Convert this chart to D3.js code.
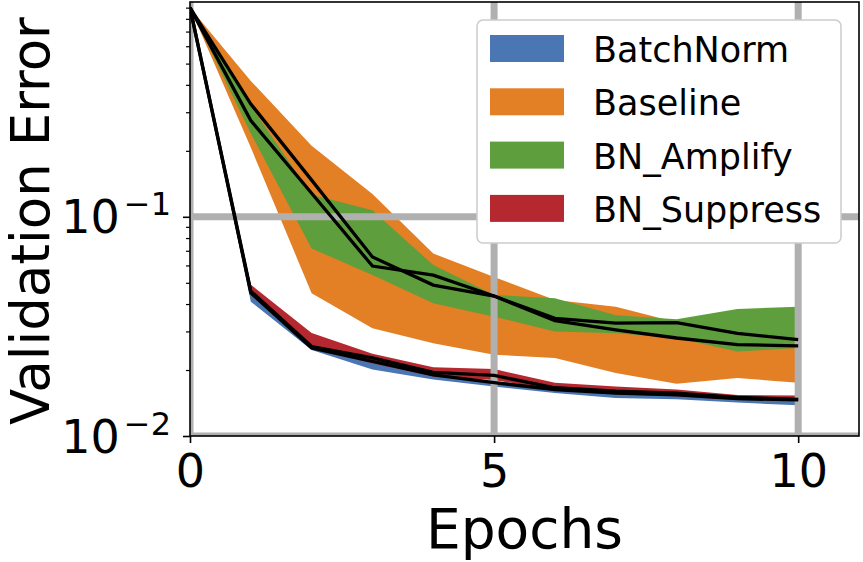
<!DOCTYPE html>
<html>
<head>
<meta charset="utf-8">
<script src="https://d3js.org/d3.v7.min.js"></script>
<style>
  body { margin: 0; background: #ffffff; }
  svg { display: block; font-family: "DejaVu Sans", sans-serif; }
</style>
</head>
<body>
<div id="chart-area"></div>
<script>
// data
var epochs = [0, 1, 2, 3, 4, 5, 6, 7, 8, 9, 10];

var batchNormMean = [0.9, 0.045, 0.0252, 0.0219, 0.0190, 0.0175, 0.0163, 0.0157, 0.0154, 0.0148, 0.0146];
var batchNormLow  = [0.9, 0.041, 0.0247, 0.0201, 0.0181, 0.0168, 0.0157, 0.0149, 0.0147, 0.0142, 0.0138];
var batchNormHigh = [0.9, 0.047, 0.0257, 0.0222, 0.0194, 0.0178, 0.0166, 0.0160, 0.0157, 0.0150, 0.0148];

var baselineMean = [0.9, 0.327, 0.147, 0.0656, 0.0488, 0.0435, 0.0336, 0.0305, 0.0280, 0.0261, 0.0258];
var baselineLow  = [0.9, 0.207, 0.0448, 0.0310, 0.0265, 0.0235, 0.0227, 0.0194, 0.0173, 0.0184, 0.0175];
var baselineHigh = [0.9, 0.417, 0.211, 0.127, 0.068, 0.0532, 0.0417, 0.0389, 0.0330, 0.0340, 0.0330];

var amplifyMean = [0.9, 0.275, 0.128, 0.0596, 0.0542, 0.0435, 0.0344, 0.0327, 0.0329, 0.0294, 0.0275];
var amplifyLow  = [0.9, 0.240, 0.0717, 0.0542, 0.0403, 0.0350, 0.0300, 0.0294, 0.0280, 0.0243, 0.0252];
var amplifyHigh = [0.9, 0.320, 0.126, 0.107, 0.0602, 0.0440, 0.0425, 0.0356, 0.0341, 0.0380, 0.0389];

var suppressMean = [0.9, 0.0458, 0.0256, 0.0227, 0.0195, 0.0189, 0.0166, 0.0160, 0.0157, 0.0150, 0.0147];
var suppressLow  = [0.9, 0.044, 0.0250, 0.0215, 0.0187, 0.0180, 0.0162, 0.0155, 0.0152, 0.0146, 0.0145];
var suppressHigh = [0.9, 0.049, 0.0295, 0.0237, 0.0206, 0.0202, 0.0175, 0.0168, 0.0163, 0.0154, 0.0153];

var seriesNames = ["BatchNorm", "Baseline", "BN_Amplify", "BN_Suppress"];
var seriesColors = ["#4a76b3", "#e37f24", "#5f9e3c", "#b6282f"];

var xTicks = [0, 5, 10];
var xTickLabels = ["0", "5", "10"];
var yMajorTicks = [0.01, 0.1];
var yTickExponents = ["\u22122", "\u22121"];
var yMinorTicks = [0.02, 0.03, 0.04, 0.05, 0.06, 0.07, 0.08, 0.09,
                   0.2, 0.3, 0.4, 0.5, 0.6, 0.7, 0.8, 0.9];

// build series table for the area/line generators
var allMeans = [batchNormMean, baselineMean, amplifyMean, suppressMean];
var allLows = [batchNormLow, baselineLow, amplifyLow, suppressLow];
var allHighs = [batchNormHigh, baselineHigh, amplifyHigh, suppressHigh];

var series = seriesNames.map(function(name, s) {
  return {
    name: name,
    color: seriesColors[s],
    rows: epochs.map(function(e, i) {
      return { e: e, mean: allMeans[s][i], lo: allLows[s][i], hi: allHighs[s][i] };
    })
  };
});

var width = 863, height = 562;
var plot = { left: 190, right: 859, top: 2, bottom: 436 };

var svg = d3.select("#chart-area")
  .append("svg")
    .attr("width", width)
    .attr("height", height);

var x = d3.scaleLinear().domain([0, 11]).range([plot.left, plot.right]);
var y = d3.scaleLog().domain([0.01, 0.955]).range([plot.bottom, plot.top]);

svg.append("clipPath")
    .attr("id", "plot-clip")
  .append("rect")
    .attr("x", plot.left)
    .attr("y", plot.top)
    .attr("width", plot.right - plot.left)
    .attr("height", plot.bottom - plot.top);

var inner = svg.append("g").attr("clip-path", "url(#plot-clip)");

// shaded bands
var area = d3.area()
  .x(function(d) { return x(d.e); })
  .y0(function(d) { return y(d.lo); })
  .y1(function(d) { return y(d.hi); });

inner.selectAll("path.band")
  .data(series)
  .enter()
  .append("path")
    .attr("class", "band")
    .attr("d", function(d) { return area(d.rows); })
    .attr("fill", function(d) { return d.color; })
    .attr("stroke", "none");

// grid lines sit above the bands, under the mean lines
inner.selectAll("line.xgrid")
  .data(xTicks)
  .enter()
  .append("line")
    .attr("x1", function(d) { return x(d); })
    .attr("x2", function(d) { return x(d); })
    .attr("y1", plot.top)
    .attr("y2", plot.bottom)
    .attr("stroke", "#b0b0b0")
    .attr("stroke-width", 7);

inner.selectAll("line.ygrid")
  .data(yMajorTicks)
  .enter()
  .append("line")
    .attr("x1", plot.left)
    .attr("x2", plot.right)
    .attr("y1", function(d) { return y(d); })
    .attr("y2", function(d) { return y(d); })
    .attr("stroke", "#b0b0b0")
    .attr("stroke-width", 7);

// mean lines
var line = d3.line()
  .x(function(d) { return x(d.e); })
  .y(function(d) { return y(d.mean); });

inner.selectAll("path.mean")
  .data(series)
  .enter()
  .append("path")
    .attr("class", "mean")
    .attr("d", function(d) { return line(d.rows); })
    .attr("fill", "none")
    .attr("stroke", "#000")
    .attr("stroke-width", 3.3)
    .attr("stroke-linejoin", "miter");

// spines
svg.append("rect")
  .attr("x", plot.left)
  .attr("y", plot.top)
  .attr("width", plot.right - plot.left)
  .attr("height", plot.bottom - plot.top)
  .attr("fill", "none")
  .attr("stroke", "#000")
  .attr("stroke-width", 1.6);

// x axis
var xAxis = svg.append("g")
  .attr("transform", "translate(0," + plot.bottom + ")")
  .call(d3.axisBottom(x)
    .tickValues(xTicks)
    .tickSize(7)
    .tickPadding(11)
    .tickFormat(function(d, i) { return xTickLabels[i]; }));
xAxis.select(".domain").remove();
xAxis.selectAll(".tick line").attr("stroke", "#000").attr("stroke-width", 1.6);
xAxis.selectAll(".tick text")
  .attr("fill", "#000")
  .style("font-family", "DejaVu Sans")
  .style("font-size", "46px");

// y axis (major + minor ticks)
var yAxis = svg.append("g")
  .attr("transform", "translate(" + plot.left + ",0)")
  .call(d3.axisLeft(y).tickValues(yMajorTicks).tickSize(7).tickFormat(""));
yAxis.select(".domain").remove();
yAxis.selectAll(".tick line").attr("stroke", "#000").attr("stroke-width", 1.6);

var yMinor = svg.append("g")
  .attr("transform", "translate(" + plot.left + ",0)")
  .call(d3.axisLeft(y).tickValues(yMinorTicks).tickSize(4).tickFormat(""));
yMinor.select(".domain").remove();
yMinor.selectAll(".tick line").attr("stroke", "#000").attr("stroke-width", 1.2);

var yLabels = svg.selectAll("text.ylab")
  .data(yMajorTicks)
  .enter()
  .append("text")
    .attr("class", "ylab")
    .attr("x", 171)
    .attr("y", function(d) { return y(d) + 16.5; })
    .attr("text-anchor", "end")
    .attr("fill", "#000")
    .style("font-size", "46px");
yLabels.append("tspan").text("10");
yLabels.append("tspan")
  .attr("dx", 4)
  .attr("dy", -18)
  .style("font-size", "32px")
  .text(function(d, i) { return yTickExponents[i]; });

// axis titles
svg.append("text")
  .attr("x", (plot.left + plot.right) / 2)
  .attr("y", 548)
  .attr("text-anchor", "middle")
  .style("font-size", "55px")
  .text("Epochs");

svg.append("text")
  .attr("transform", "translate(49," + 221 + ") rotate(-90)")
  .attr("text-anchor", "middle")
  .style("font-size", "53px")
  .text("Validation Error");

// legend
var legend = svg.append("g");
legend.append("rect")
  .attr("x", 477)
  .attr("y", 20)
  .attr("width", 364)
  .attr("height", 223)
  .attr("rx", 6)
  .attr("fill", "#fff")
  .attr("stroke", "#cccccc")
  .attr("stroke-width", 1.5);

var items = legend.selectAll("g.item")
  .data(series)
  .enter()
  .append("g")
    .attr("class", "item")
    .attr("transform", function(d, i) { return "translate(490," + (35 + i * 53.3) + ")"; });

items.append("rect")
  .attr("width", 74)
  .attr("height", 27)
  .attr("fill", function(d) { return d.color; });

items.append("text")
  .attr("x", 103)
  .attr("y", 27)
  .style("font-size", "35px")
  .text(function(d) { return d.name; });
</script>
</body>
</html>
